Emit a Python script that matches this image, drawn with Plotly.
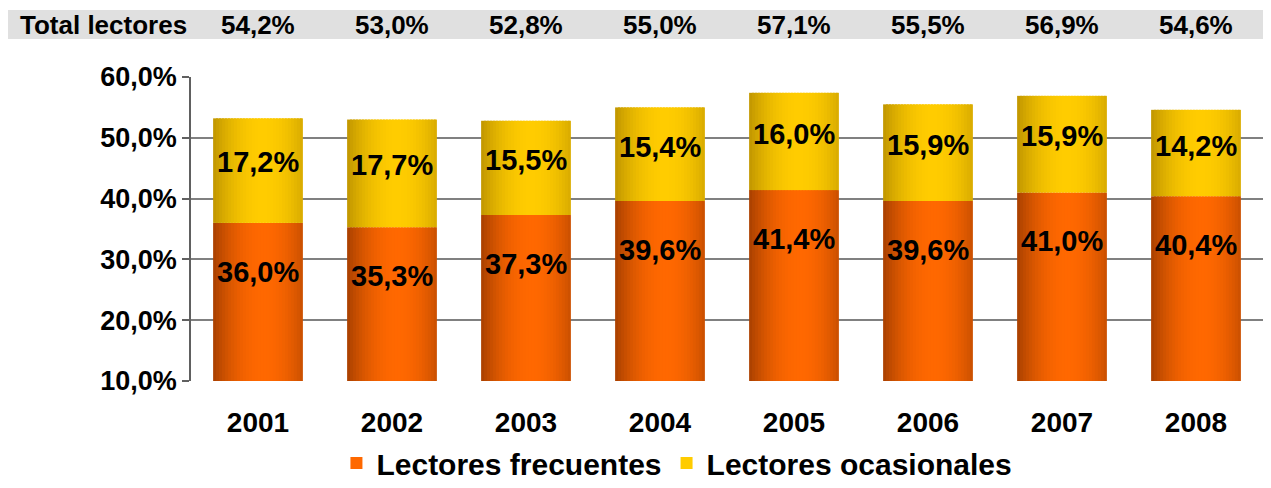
import plotly.graph_objects as go

years = ["2001", "2002", "2003", "2004", "2005", "2006", "2007", "2008"]
frecuentes = [36.0, 35.3, 37.3, 39.6, 41.4, 39.6, 41.0, 40.4]
ocasionales = [17.2, 17.7, 15.5, 15.4, 16.0, 15.9, 15.9, 14.2]
totales = [54.2, 53.0, 52.8, 55.0, 57.1, 55.5, 56.9, 54.6]

FONT = "Liberation Sans, Arial, sans-serif"
BAR_W = 0.67
N_STRIPS = 30


def pct(v):
    return f"{v:.1f}".replace(".", ",") + "%"


def mix(c1, c2, f):
    return "rgb({},{},{})".format(*[round(a + (b - a) * f) for a, b in zip(c1, c2)])


def shade(t):
    # brightness profile across the bar (cylinder look, peak a bit right of centre)
    f = 1 - ((t - 0.56) / 0.56) ** 2
    return max(0.0, min(1.0, f))


series = [
    ("Lectores frecuentes", frecuentes, None, (168, 64, 0), (255, 104, 0)),
    ("Lectores ocasionales", ocasionales, frecuentes, (192, 150, 0), (255, 204, 0)),
]

fig = go.Figure()
sw = BAR_W / N_STRIPS
for name, vals, base, edge, center in series:
    for i in range(N_STRIPS):
        t = (i + 0.5) / N_STRIPS
        off = -BAR_W / 2 + i * sw
        fig.add_trace(go.Bar(
            x=years,
            y=vals,
            base=base,
            width=min(sw * 1.6, BAR_W / 2 - off),
            offset=off,
            marker=dict(color=mix(edge, center, shade(t)), line=dict(width=0)),
            name=f"<b>{name}</b>",
            legendgroup=name,
            showlegend=(i == N_STRIPS // 2),
            hoverinfo="skip" if i != N_STRIPS // 2 else None,
        ))

label_font = dict(size=29, color="black", family=FONT)
head_font = dict(size=26, color="black", family=FONT)

# category axis: annotations use the category index
annotations = []
for k, (f, o) in enumerate(zip(frecuentes, ocasionales)):
    annotations.append(dict(x=k, y=f - 8, xref="x", yref="y", text=f"<b>{pct(f)}</b>",
                            showarrow=False, font=label_font))
    annotations.append(dict(x=k, y=f + o * 0.58, xref="x", yref="y", text=f"<b>{pct(o)}</b>",
                            showarrow=False, font=label_font))

# header row with totals
annotations.append(dict(x=-0.082, y=1.171, xref="paper", yref="paper", text="<b>Total lectores</b>",
                        xanchor="center", yanchor="middle", showarrow=False, font=head_font))
for k, tot in enumerate(totales):
    annotations.append(dict(x=k, y=1.171, xref="x", yref="paper", text=f"<b>{pct(tot)}</b>",
                            xanchor="center", yanchor="middle", showarrow=False, font=head_font))

# the page adds an 8px body margin, so the figure is 16px smaller than the window
fig.update_layout(
    width=1255,
    height=472,
    margin=dict(l=183, r=0, t=69, b=99, autoexpand=False),
    paper_bgcolor="white",
    plot_bgcolor="white",
    barmode="overlay",
    separators=",.",
    font=dict(family=FONT, color="black"),
    annotations=annotations,
    shapes=[dict(type="rect", xref="paper", yref="paper", x0=-0.1716, x1=1.0075,
                 y0=1.125, y1=1.2204, fillcolor="#e0e0e0", line=dict(width=0), layer="below")],
    showlegend=True,
    legend=dict(orientation="h", x=0.4533, xanchor="center", y=-0.27, yanchor="middle",
                font=dict(size=30, family=FONT), itemwidth=30, traceorder="normal"),
    xaxis=dict(
        type="category",
        range=[-0.5, len(years) - 0.5],
        tickfont=dict(size=28, family=FONT),
        showline=False,
        ticks="",
        ticklabelstandoff=22,
        automargin=False,
        tickprefix="<b>",
        ticksuffix="</b>",
    ),
    yaxis=dict(
        range=[10, 60],
        dtick=10,
        tickformat=".1f",
        tickprefix="<b>",
        ticksuffix="%</b>",
        tickfont=dict(size=27, family=FONT),
        showgrid=True,
        gridcolor="#808080",
        gridwidth=1.5,
        showline=True,
        linecolor="#606060",
        linewidth=1.5,
        ticks="outside",
        ticklen=7,
        tickcolor="#606060",
        tickwidth=1.5,
        ticklabelstandoff=0,
        zeroline=False,
        automargin=False,
    ),
)

fig.write_html("out.html")
